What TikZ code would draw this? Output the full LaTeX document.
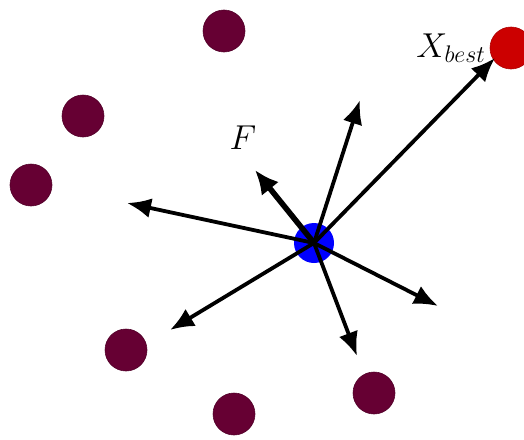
\documentclass[tikz,border=0pt]{standalone}
\usepackage{amsmath}
\usepackage{xcolor}
\usepackage{tikz}
\usetikzlibrary{arrows.meta,positioning}
\definecolor{agentpurple}{HTML}{660033}
\definecolor{bestred}{HTML}{CC0000}
\definecolor{selfblue}{HTML}{0000FF}
\tikzset{
  agent/.style={circle, fill=agentpurple, draw=agentpurple!80!black, line width=0.3pt, minimum size=21pt, inner sep=0pt},
  bestnode/.style={circle, fill=bestred, draw=bestred!85!black, line width=0.3pt, minimum size=21pt, inner sep=0pt},
  selfnode/.style={circle, fill=selfblue, minimum size=20pt, inner sep=0pt},
  move/.style={-{Latex[length=12pt, width=10pt]}, line width=1.9pt, draw=black},
  force/.style={-{Latex[length=12pt, width=11pt]}, line width=2.8pt, draw=black}
}

\begin{document}
\begin{tikzpicture}[x=0.5pt, y=-0.5pt]
  \useasboundingbox (0,0) rectangle (524,439);
  % other agents
  \node[agent] (a1) at (224,31) {};
  \node[agent] (a2) at (83,116) {};
  \node[agent] (a3) at (31,185) {};
  \node[agent] (a4) at (126,350) {};
  \node[agent] (a5) at (234,414) {};
  \node[agent] (a6) at (374,393) {};
  \node[bestnode] (best) at (511,48) {};
  \node[font=\LARGE, anchor=east] (bestlabel) at (493,48) {$X_{best}$};
  % current agent
  \node[selfnode] (self) at (314,243) {};
  \coordinate (tbest) at (495,58);
  \coordinate (tup) at (360,100);
  \coordinate (tf) at (255,170);
  \coordinate (tleft) at (127,203);
  \coordinate (tll) at (170,330);
  \coordinate (tdown) at (357,356);
  \coordinate (tlr) at (438,306);
  \draw[move] (self.center) -- (tbest);
  \draw[move] (self.center) -- (tup);
  \draw[force] (self.center) -- (tf);
  \draw[move] (self.center) -- (tleft);
  \draw[move] (self.center) -- (tll);
  \draw[move] (self.center) -- (tdown);
  \draw[move] (self.center) -- (tlr);
  \node[font=\LARGE] (flabel) at (243,138) {$F$};
\end{tikzpicture}
\end{document}
